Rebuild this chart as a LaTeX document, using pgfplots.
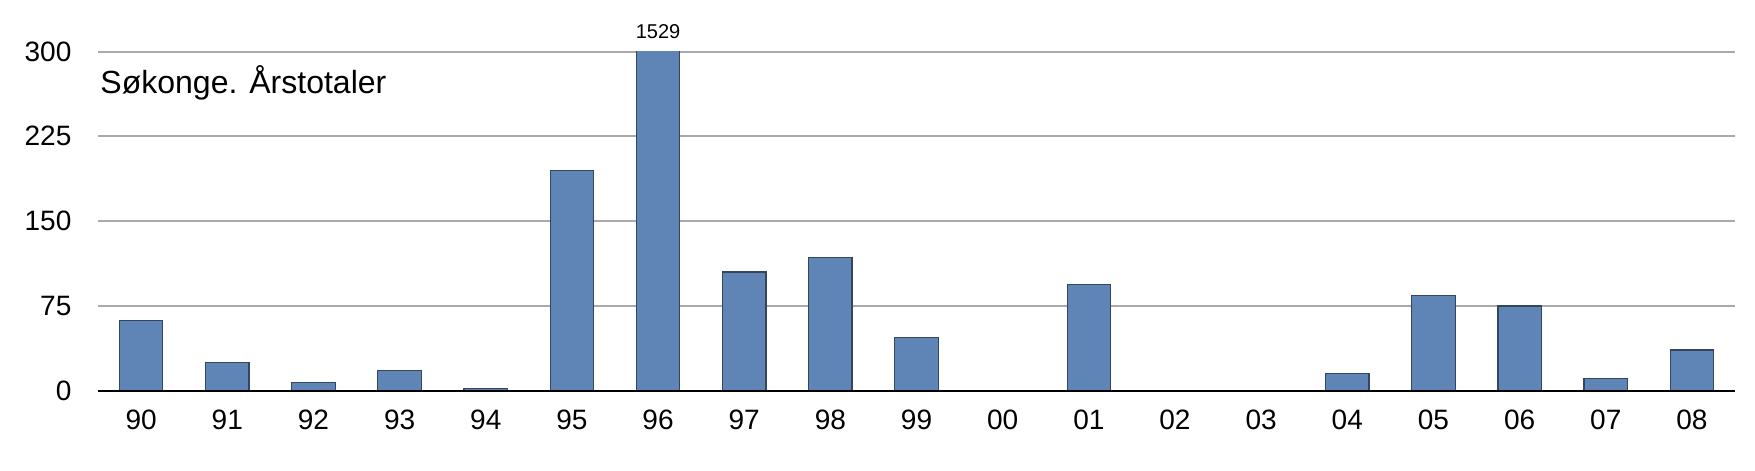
\documentclass[border=0pt]{standalone}
\usepackage{pgfplots}
\pgfplotsset{compat=1.18}
\usepackage{fontspec}
\setmainfont{Liberation Sans}
\definecolor{barfill}{HTML}{5F84B6}
\definecolor{baredge}{HTML}{34465F}
\definecolor{gridc}{HTML}{A9A9A9}
\begin{document}
\begin{tikzpicture}
\begin{axis}[
  name=a,
  scale only axis,
  width=818pt, height=169.5pt,
  xmin=-0.5, xmax=18.5,
  ymin=0, ymax=300,
  ytick={0,75,150,225,300},
  xtick={0,...,18},
  xticklabels={90,91,92,93,94,95,96,97,98,99,00,01,02,03,04,05,06,07,08},
  axis line style={draw=none},
  major tick length=0pt,
  ymajorgrids,
  grid style={gridc, line width=1pt},
  tick label style={font=\fontsize{14}{16}\selectfont},
  /pgf/number format/assume math mode=true,
  xticklabel style={yshift=-6pt},
  yticklabel style={xshift=-9.8pt},
  clip mode=individual,
]
\addplot[ybar, bar width=21.7pt, fill=barfill, draw=baredge, line width=0.6pt]
  coordinates {(0,62) (1,25) (2,7) (3,18) (4,2) (5,195) (6,1529) (7,105) (8,118) (9,47) (10,0) (11,94) (12,0) (13,0) (14,15) (15,84) (16,75) (17,11) (18,36)};
\draw[black, line width=1.1pt] (rel axis cs:0,0) -- (rel axis cs:1,0);
\node[anchor=south, inner sep=0pt, font=\fontsize{10}{12}\selectfont] at (axis cs:6,300) [yshift=6pt] {1529};
\node[anchor=base west, inner sep=0pt, font=\fontsize{16}{19}\selectfont] at (rel axis cs:0,1) [xshift=1pt, yshift=-20.75pt] {Søkonge. Årstotaler};
\end{axis}
\pgfresetboundingbox
\path ([shift={(-49pt,-39.7pt)}]a.south west) rectangle ([shift={(10pt,25.75pt)}]a.north east);
\end{tikzpicture}
\end{document}
